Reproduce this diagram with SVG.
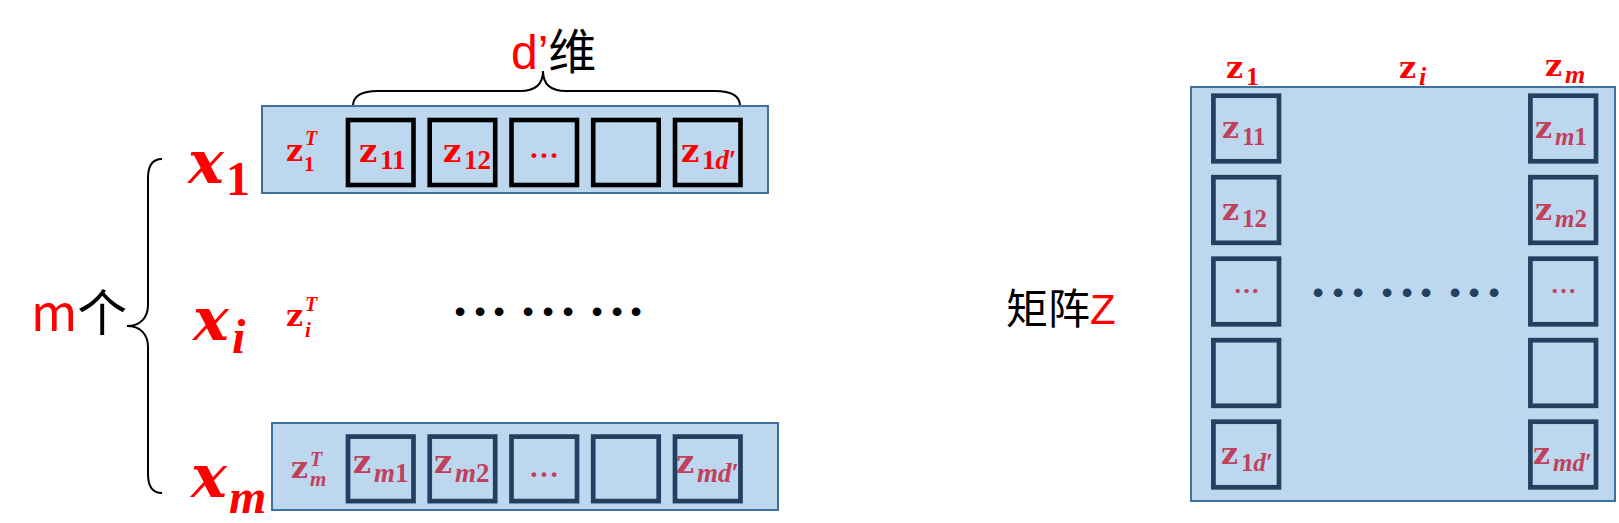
<svg xmlns="http://www.w3.org/2000/svg" width="1619" height="523" viewBox="0 0 1619 523">
<style>
.panel{fill:#BDD7EE;stroke:#41719C;stroke-width:2}
.boxk{fill:none;stroke:#000;stroke-width:4.6}
.boxn{fill:none;stroke:#243F60;stroke-width:4.7}
.brace{fill:none;stroke:#000;stroke-width:2}
.r{fill:#FF0000}
.p{fill:#C0415C}
.zz{font-family:"DejaVu Serif",serif;font-weight:bold}
.sb{font-family:"Liberation Serif",serif;font-weight:bold}
.it{font-style:italic}
.up{font-style:normal}
.cjk{font-family:"Noto Sans CJK SC","Noto Sans",sans-serif}
.ell{font-family:"Liberation Serif",serif;font-weight:bold;text-anchor:middle}
.bul{font-family:"Liberation Sans",sans-serif;text-anchor:middle}
.xl{font-family:"DejaVu Serif",serif;font-weight:bold;font-style:italic}
</style>

<g id="connectors">
  <path class="brace" d="M353,106 C353,96 362,91 378,91 L520,91 C535,91 543,84 543,71 C543,84 551,91 566,91 L715,91 C731,91 740,96 740,106"/>
  <path class="brace" d="M162,159 C152,159 148,166 148,178 L148,305 C148,318 140,326 127,326 C140,326 148,334 148,347 L148,474 C148,486 152,493 162,493"/>
</g>

<g id="label-dim">
  <text class="cjk" x="511" y="69" font-size="48"><tspan class="r" font-family="Liberation Sans, sans-serif">d’</tspan><tspan fill="#000">维</tspan></text>
</g>
<g id="label-m">
  <text class="cjk" x="31" y="331" font-size="50"><tspan class="r">m</tspan><tspan fill="#000">个</tspan></text>
</g>

<g id="x1">
  <text class="xl r"><tspan x="188" y="183" font-size="60">x</tspan><tspan class="sb up" x="226" y="195" font-size="48">1</tspan></text>
</g>
<g id="xi">
  <text class="xl r"><tspan x="193" y="340" font-size="60">x</tspan><tspan class="sb it" x="232" y="353" font-size="48">i</tspan></text>
</g>
<g id="xm">
  <text class="xl r"><tspan x="191" y="497" font-size="60">x</tspan><tspan class="sb it" x="229" y="513" font-size="48">m</tspan></text>
</g>

<g id="row1">
  <rect class="panel" x="262" y="106" width="506" height="87"/>
  <text class="r"><tspan class="zz" x="286" y="161" font-size="30">z</tspan><tspan class="sb it" x="305" y="145" font-size="20">T</tspan><tspan class="sb" x="304" y="171" font-size="21">1</tspan></text>
  <rect class="boxk" x="348" y="120" width="65.5" height="65"/>
  <rect class="boxk" x="429.7" y="120" width="65.5" height="65"/>
  <rect class="boxk" x="511.5" y="120" width="65.5" height="65"/>
  <rect class="boxk" x="593.2" y="120" width="65.5" height="65"/>
  <rect class="boxk" x="675" y="120" width="65.5" height="65"/>
  <text class="r"><tspan class="zz" x="359" y="162" font-size="32">z</tspan><tspan class="sb" x="380" y="169" font-size="27">11</tspan></text>
  <text class="r"><tspan class="zz" x="443" y="162" font-size="32">z</tspan><tspan class="sb" x="464" y="169" font-size="27">12</tspan></text>
  <text class="ell r" x="544" y="158" font-size="30">…</text>
  <text class="r"><tspan class="zz" x="681" y="162" font-size="32">z</tspan><tspan class="sb" x="702" y="169" font-size="27">1<tspan class="it">d</tspan>′</tspan></text>
</g>

<g id="rowi">
  <text class="r"><tspan class="zz" x="286" y="326" font-size="30">z</tspan><tspan class="sb it" x="305" y="311" font-size="20">T</tspan><tspan class="sb it" x="305" y="337" font-size="21">i</tspan></text>
  <text class="bul" fill="#000" font-size="32" y="322"><tspan x="460">•</tspan><tspan x="480">•</tspan><tspan x="499">•</tspan><tspan x="528">•</tspan><tspan x="548">•</tspan><tspan x="568">•</tspan><tspan x="597">•</tspan><tspan x="617">•</tspan><tspan x="636">•</tspan></text>
</g>

<g id="rowm">
  <rect class="panel" x="272" y="423" width="506" height="87"/>
  <text class="p"><tspan class="zz" x="291" y="478" font-size="30">z</tspan><tspan class="sb it" x="310" y="466" font-size="20">T</tspan><tspan class="sb it" x="310" y="486" font-size="21">m</tspan></text>
  <rect class="boxn" x="348" y="436.6" width="65.5" height="64.5"/>
  <rect class="boxn" x="429.7" y="436.6" width="65.5" height="64.5"/>
  <rect class="boxn" x="511.5" y="436.6" width="65.5" height="64.5"/>
  <rect class="boxn" x="593.2" y="436.6" width="65.5" height="64.5"/>
  <rect class="boxn" x="675" y="436.6" width="65.5" height="64.5"/>
  <text class="p"><tspan class="zz" x="353" y="473" font-size="32">z</tspan><tspan class="sb" x="374" y="482" font-size="27"><tspan class="it">m</tspan>1</tspan></text>
  <text class="p"><tspan class="zz" x="434" y="473" font-size="32">z</tspan><tspan class="sb" x="455" y="482" font-size="27"><tspan class="it">m</tspan>2</tspan></text>
  <text class="ell p" x="544" y="477" font-size="30">…</text>
  <text class="p"><tspan class="zz" x="676" y="473" font-size="32">z</tspan><tspan class="sb" x="697" y="482" font-size="27"><tspan class="it">md</tspan>′</tspan></text>
</g>

<g id="label-Z">
  <text class="cjk" x="1006" y="324" font-size="42"><tspan fill="#000">矩阵</tspan><tspan class="r" font-family="Liberation Sans, sans-serif">Z</tspan></text>
</g>

<g id="matrix">
  <rect class="panel" x="1191" y="87" width="424" height="414"/>
  <text class="r"><tspan class="zz" x="1226" y="78" font-size="30">z</tspan><tspan class="sb" x="1246" y="85" font-size="26">1</tspan></text>
  <text class="r"><tspan class="zz" x="1399" y="78" font-size="30">z</tspan><tspan class="sb it" x="1419" y="85" font-size="26">i</tspan></text>
  <text class="r"><tspan class="zz" x="1545" y="76" font-size="30">z</tspan><tspan class="sb it" x="1565" y="83" font-size="26">m</tspan></text>

  <rect class="boxn" x="1213.4" y="95.7" width="65.6" height="65.6"/>
  <rect class="boxn" x="1213.4" y="177.2" width="65.6" height="65.6"/>
  <rect class="boxn" x="1213.4" y="258.7" width="65.6" height="65.6"/>
  <rect class="boxn" x="1213.4" y="340.2" width="65.6" height="65.6"/>
  <rect class="boxn" x="1213.4" y="421.7" width="65.6" height="65.6"/>

  <rect class="boxn" x="1530.4" y="95.7" width="65.6" height="65.6"/>
  <rect class="boxn" x="1530.4" y="177.2" width="65.6" height="65.6"/>
  <rect class="boxn" x="1530.4" y="258.7" width="65.6" height="65.6"/>
  <rect class="boxn" x="1530.4" y="340.2" width="65.6" height="65.6"/>
  <rect class="boxn" x="1530.4" y="421.7" width="65.6" height="65.6"/>

  <text class="p"><tspan class="zz" x="1222" y="138" font-size="30">z</tspan><tspan class="sb" x="1242" y="145" font-size="25">11</tspan></text>
  <text class="p"><tspan class="zz" x="1222" y="219.5" font-size="30">z</tspan><tspan class="sb" x="1242" y="226.5" font-size="25">12</tspan></text>
  <text class="ell p" x="1246.5" y="293" font-size="26">…</text>
  <text class="p"><tspan class="zz" x="1221" y="464" font-size="30">z</tspan><tspan class="sb" x="1241" y="471" font-size="25">1<tspan class="it">d</tspan>′</tspan></text>

  <text class="p"><tspan class="zz" x="1535" y="138" font-size="30">z</tspan><tspan class="sb" x="1555" y="145" font-size="25"><tspan class="it">m</tspan>1</tspan></text>
  <text class="p"><tspan class="zz" x="1535" y="219.5" font-size="30">z</tspan><tspan class="sb" x="1555" y="226.5" font-size="25"><tspan class="it">m</tspan>2</tspan></text>
  <text class="ell p" x="1563.5" y="293" font-size="26">…</text>
  <text class="p"><tspan class="zz" x="1533" y="464" font-size="30">z</tspan><tspan class="sb" x="1553" y="471" font-size="25"><tspan class="it">md</tspan>′</tspan></text>

  <text class="bul" fill="#243F60" font-size="32" y="303"><tspan x="1318">•</tspan><tspan x="1338">•</tspan><tspan x="1358">•</tspan><tspan x="1387">•</tspan><tspan x="1407">•</tspan><tspan x="1426">•</tspan><tspan x="1455">•</tspan><tspan x="1474">•</tspan><tspan x="1494">•</tspan></text>
</g>
</svg>
